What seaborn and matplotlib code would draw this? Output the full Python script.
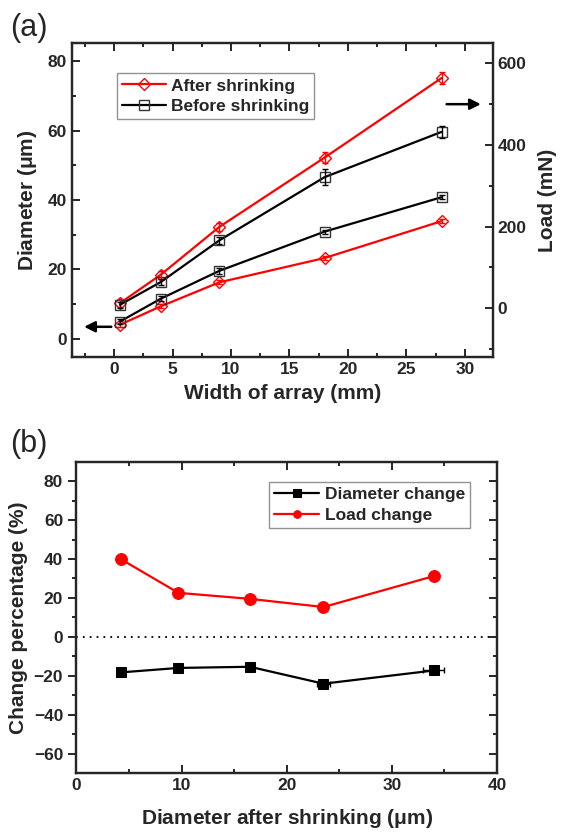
import numpy as np
import pandas as pd
import matplotlib
matplotlib.use("Agg")
import matplotlib.pyplot as plt
import seaborn as sns

sns.set_style("ticks")
plt.rcParams['font.family'] = ['Liberation Sans', 'DejaVu Sans']
plt.rcParams['font.weight'] = 'bold'
plt.rcParams['axes.labelweight'] = 'bold'
plt.rcParams['axes.linewidth'] = 1.6
plt.rcParams['mathtext.default'] = 'regular'

# panel (a) data
width = [0.5, 4, 9, 18, 28]
dia_after = [4.1, 9.4, 16.3, 23.3, 33.9]
dia_after_err = [0.6, 0.6, 0.6, 0.5, 0.5]
dia_before = [5.0, 11.6, 19.6, 30.9, 40.8]
dia_before_err = [0.8, 0.8, 0.8, 0.6, 0.5]
load_after = [12, 82, 199, 369, 564]
load_after_err = [10, 10, 10, 14, 14]
load_before = [8, 64, 166, 321, 432]
load_before_err = [8, 8, 8, 20, 14]

# panel (b) data
dia_shrunk = [4.2, 9.7, 16.5, 23.5, 34.0]
dia_shrunk_err = [0.2, 0.2, 0.4, 0.6, 1.0]
dia_change = [-18.3, -16.0, -15.4, -24.1, -17.3]
dia_change_err = [0.8, 0.8, 1.0, 1.0, 0.8]
load_change = [40.0, 22.6, 19.5, 15.3, 31.2]

RED = '#ff0000'
BLK = '#000000'
TICK_FS = 12.5
LAB_FS = 15
LEG_FS = 12.5

fig = plt.figure(figsize=(5.65, 8.32), dpi=100)

# ---------------- panel (a)
ax = fig.add_axes([0.1274, 0.5709, 0.7451, 0.3774])
ax2 = ax.twinx()

df_a = pd.DataFrame({'w': width, 'da': dia_after, 'db': dia_before,
                     'la': load_after, 'lb': load_before})

sns.lineplot(data=df_a, x='w', y='da', ax=ax, color=RED, marker='D', markersize=6.5,
             markerfacecolor='none', markeredgecolor=RED, mew=1.0, lw=1.6, label='After shrinking')
sns.lineplot(data=df_a, x='w', y='db', ax=ax, color=BLK, marker='s', markersize=6.5,
             markerfacecolor='none', markeredgecolor='#333333', mew=1.0, lw=1.6, label='Before shrinking')
ax.errorbar(width, dia_after, yerr=dia_after_err, fmt='none', ecolor=RED, elinewidth=1, capsize=2.5)
ax.errorbar(width, dia_before, yerr=dia_before_err, fmt='none', ecolor=BLK, elinewidth=1, capsize=2.5)

sns.lineplot(data=df_a, x='w', y='la', ax=ax2, color=RED, marker='D', markersize=6.5,
             markerfacecolor='none', markeredgecolor=RED, mew=1.0, lw=1.6, legend=False)
sns.lineplot(data=df_a, x='w', y='lb', ax=ax2, color=BLK, marker='s', markersize=6.5,
             markerfacecolor='none', markeredgecolor='#333333', mew=1.0, lw=1.6, legend=False)
ax2.errorbar(width, load_after, yerr=load_after_err, fmt='none', ecolor=RED, elinewidth=1, capsize=2.5)
ax2.errorbar(width, load_before, yerr=load_before_err, fmt='none', ecolor=BLK, elinewidth=1, capsize=2.5)

ax.set_xlim(-3.6, 32.4)
ax.set_ylim(-5.2, 85.2)
ax2.set_ylim(-120, 650)
ax.set_xticks([0, 5, 10, 15, 20, 25, 30])
ax.set_xticks(np.arange(-2.5, 32.5, 2.5), minor=True)
ax.set_yticks([0, 20, 40, 60, 80])
ax.set_yticks([10, 30, 50, 70], minor=True)
ax2.set_yticks([0, 200, 400, 600])
ax2.set_yticks([-100, 100, 300, 500], minor=True)

ax.tick_params(which='both', direction='in', top=True, labelsize=TICK_FS, width=1.4)
ax.tick_params(which='major', length=6)
ax.tick_params(which='minor', length=3)
ax2.tick_params(which='both', direction='in', labelsize=TICK_FS, width=1.4)
ax2.tick_params(which='major', length=6)
ax2.tick_params(which='minor', length=3)
for a in (ax, ax2):
    for s in a.spines.values():
        s.set_visible(True)
        s.set_linewidth(1.6)

ax.set_xlabel('Width of array (mm)', fontsize=LAB_FS, labelpad=5)
ax.set_ylabel('Diameter ($\\mu$m)', fontsize=LAB_FS, labelpad=6)
ax2.set_ylabel('Load (mN)', fontsize=LAB_FS, labelpad=8)

leg = ax.legend(loc='upper left', bbox_to_anchor=(0.107, 0.904), fontsize=LEG_FS, frameon=True,
                fancybox=False, edgecolor='#777777', handlelength=2.5, borderpad=0.3,
                labelspacing=0.3, handletextpad=0.3, borderaxespad=0.0)
leg.get_frame().set_linewidth(1.0)

ax.annotate('', xy=(-2.8, 3.5), xytext=(0.0, 3.5),
            arrowprops=dict(arrowstyle='-|>', color=BLK, lw=1.8, mutation_scale=16))
ax2.annotate('', xy=(31.6, 500), xytext=(28.2, 500),
             arrowprops=dict(arrowstyle='-|>', color=BLK, lw=1.8, mutation_scale=16))

fig.text(0.018, 0.957, '(a)', fontsize=22, fontweight='normal')

# ---------------- panel (b)
bx = fig.add_axes([0.1352, 0.0709, 0.7444, 0.3742])
df_b = pd.DataFrame({'d': dia_shrunk, 'dc': dia_change, 'lc': load_change})

bx.axhline(0, color=BLK, ls=(0, (1.0, 2.8)), lw=1.3)
sns.lineplot(data=df_b, x='d', y='dc', ax=bx, color=BLK, marker='s', markersize=7,
             markeredgecolor=BLK, lw=1.6, label='Diameter change')
sns.lineplot(data=df_b, x='d', y='lc', ax=bx, color=RED, marker='o', markersize=8.5,
             markeredgecolor=RED, lw=1.6, label='Load change')
bx.errorbar(dia_shrunk, dia_change, xerr=dia_shrunk_err, yerr=dia_change_err, fmt='none',
            ecolor=BLK, elinewidth=1, capsize=2.5)

bx.set_xlim(0, 40)
bx.set_ylim(-70, 90)
bx.set_xticks([0, 10, 20, 30, 40])
bx.set_xticks([5, 15, 25, 35], minor=True)
bx.set_yticks([-60, -40, -20, 0, 20, 40, 60, 80])
bx.set_yticks(np.arange(-50, 90, 20), minor=True)
bx.tick_params(which='both', direction='in', top=True, labelsize=TICK_FS, width=1.4)
bx.tick_params(axis='y', which='both', direction='out')
bx.tick_params(which='major', length=6)
bx.tick_params(which='minor', length=3)
for s in bx.spines.values():
    s.set_visible(True)
    s.set_linewidth(1.6)
# inward ticks on the right side of panel (b)
bx_r = bx.twinx()
bx_r.set_ylim(bx.get_ylim())
bx_r.set_yticks(bx.get_yticks())
bx_r.set_yticks(np.arange(-50, 90, 20), minor=True)
bx_r.tick_params(which='both', direction='in', labelright=False, width=1.4)
bx_r.tick_params(which='major', length=6)
bx_r.tick_params(which='minor', length=3)

bx.set_xlabel('Diameter after shrinking ($\\mu$m)', fontsize=LAB_FS, labelpad=10)
bx.set_ylabel('Change percentage (%)', fontsize=LAB_FS, labelpad=4)

leg_b = bx.legend(loc='upper right', bbox_to_anchor=(0.936, 0.935), fontsize=LEG_FS, frameon=True,
                  fancybox=False, edgecolor='#777777', handlelength=2.6, borderpad=0.3,
                  labelspacing=0.3, handletextpad=0.3, borderaxespad=0.0)
leg_b.get_frame().set_linewidth(1.0)
for h in leg_b.legend_handles:
    h.set_markersize(5.5)

fig.text(0.018, 0.457, '(b)', fontsize=22, fontweight='normal')

fig.savefig('out.png', dpi=100)
